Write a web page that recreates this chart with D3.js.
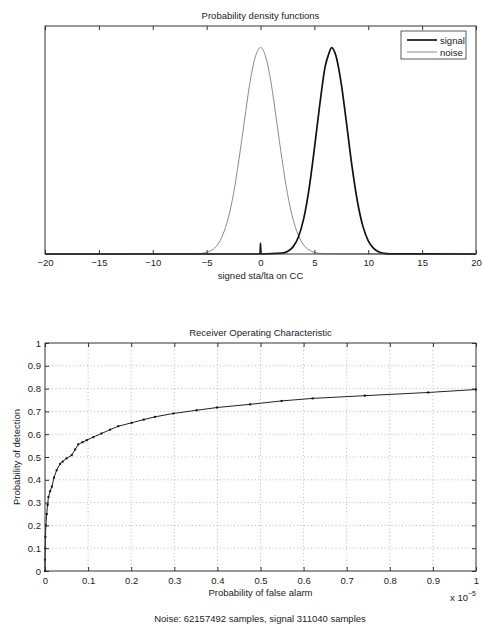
<!DOCTYPE html>
<html>
<head>
<meta charset="utf-8">
<title>PDF and ROC</title>
<script src="https://cdn.jsdelivr.net/npm/d3@7"></script>
<style>
body { margin: 0; background: #fff; }
text { font-family: "Liberation Sans", Arial, sans-serif; fill: #222; font-size: 9.5px; }
</style>
</head>
<body>
<script>
// density curves, values (no y scale shown)
var noiseX = [-20, -6, -5.5, -5, -4.5, -4, -3.5, -3, -2.5, -2, -1.5, -1, -0.5, 0, 0.5, 1, 1.5, 2, 2.5, 3, 3.5, 4, 4.5, 5, 5.5, 6, 20];
var noiseY = [0, 0.0002, 0.0007, 0.0019, 0.0048, 0.011, 0.023, 0.043, 0.073, 0.114, 0.160, 0.205, 0.237, 0.249, 0.237, 0.205, 0.160, 0.114, 0.073, 0.043, 0.023, 0.011, 0.0048, 0.0019, 0.0007, 0.0002, 0];
var signalX = [-20, -0.04, 0, 0.04, 2, 2.5, 3, 3.5, 4, 4.5, 5, 5.5, 6, 6.3, 6.6, 7, 7.5, 8, 8.5, 9, 9.5, 10, 10.5, 11, 11.5, 12, 20];
var signalY = [0, 0, 0.013, 0, 0.001, 0.003, 0.0083, 0.0199, 0.042, 0.078, 0.127, 0.180, 0.226, 0.240, 0.249, 0.239, 0.205, 0.156, 0.105, 0.063, 0.0336, 0.0159, 0.0067, 0.0025, 0.0008, 0.0002, 0];
var pdfTicks = [-20, -15, -10, -5, 0, 5, 10, 15, 20];

// ROC curve, false alarm in units of 1e-5
var pfa = [0, 0, 0.0005, 0.001, 0.002, 0.004, 0.006, 0.008, 0.012, 0.016, 0.021, 0.027, 0.035, 0.041, 0.050, 0.062, 0.070, 0.077, 0.087, 0.097, 0.112, 0.131, 0.151, 0.170, 0.201, 0.229, 0.255, 0.298, 0.352, 0.399, 0.476, 0.549, 0.621, 0.742, 0.889, 1.0];
var pd = [0, 0.05, 0.10, 0.15, 0.20, 0.25, 0.29, 0.325, 0.35, 0.37, 0.41, 0.442, 0.47, 0.48, 0.494, 0.508, 0.533, 0.555, 0.565, 0.574, 0.587, 0.603, 0.62, 0.635, 0.65, 0.664, 0.676, 0.691, 0.705, 0.717, 0.731, 0.746, 0.757, 0.769, 0.783, 0.796];
var rocTicks = [0, 0.1, 0.2, 0.3, 0.4, 0.5, 0.6, 0.7, 0.8, 0.9, 1];

var width = 482, height = 628;
var svg = d3.select("body").append("svg")
    .attr("width", width)
    .attr("height", height);

var fmt = function(d) { return String(d).replace("-", "\u2212"); };
var axStyle = function(a) { a.select(".domain").remove(); a.selectAll("line").attr("stroke", "#333"); };

// ---------- top panel ----------
var pdfBox = { left: 45, right: 476, top: 26, bottom: 254 };
var x1 = d3.scaleLinear().domain([-20, 20]).range([pdfBox.left, pdfBox.right]);
var y1 = d3.scaleLinear().domain([0, 0.275]).range([pdfBox.bottom, pdfBox.top]);

var g1 = svg.append("g");

var line1 = d3.line().curve(d3.curveMonotoneX);

g1.append("path")
    .attr("d", line1(noiseX.map(function(d, i) { return [x1(d), y1(noiseY[i])]; })))
    .attr("fill", "none")
    .attr("stroke", "#8a8a8a")
    .attr("stroke-width", 1);

g1.append("path")
    .attr("d", line1(signalX.map(function(d, i) { return [x1(d), y1(signalY[i])]; })))
    .attr("fill", "none")
    .attr("stroke", "#111")
    .attr("stroke-width", 1.7);

g1.append("g")
    .attr("transform", "translate(0," + pdfBox.bottom + ")")
    .call(d3.axisBottom(x1).tickValues(pdfTicks).tickSize(-4).tickPadding(5).tickFormat(fmt))
    .call(axStyle);
g1.append("g")
    .attr("transform", "translate(0," + pdfBox.top + ")")
    .call(d3.axisTop(x1).tickValues(pdfTicks).tickSize(-4).tickFormat(""))
    .call(axStyle);

g1.append("rect")
    .attr("x", pdfBox.left).attr("y", pdfBox.top)
    .attr("width", pdfBox.right - pdfBox.left).attr("height", pdfBox.bottom - pdfBox.top)
    .attr("fill", "none").attr("stroke", "#333").attr("stroke-width", 1);

g1.selectAll(".tick text").attr("font-size", "9.5px").attr("fill", "#222").attr("font-family", "Liberation Sans, Arial, sans-serif");

svg.append("text").attr("x", (pdfBox.left + pdfBox.right) / 2).attr("y", 18.5)
    .attr("text-anchor", "middle").text("Probability density functions");
svg.append("text").attr("x", (pdfBox.left + pdfBox.right) / 2).attr("y", 278.5)
    .attr("text-anchor", "middle").text("signed sta/lta on CC");

// legend
var leg = svg.append("g").attr("transform", "translate(401,31)");
leg.append("rect").attr("width", 65).attr("height", 28)
    .attr("fill", "#fff").attr("stroke", "#333").attr("stroke-width", 0.8);
leg.append("line").attr("x1", 6).attr("x2", 36).attr("y1", 9).attr("y2", 9)
    .attr("stroke", "#111").attr("stroke-width", 1.7);
leg.append("line").attr("x1", 6).attr("x2", 36).attr("y1", 21).attr("y2", 21)
    .attr("stroke", "#8a8a8a").attr("stroke-width", 1);
leg.append("text").attr("x", 39).attr("y", 12.5).attr("font-size", "9px").text("signal");
leg.append("text").attr("x", 39).attr("y", 24.5).attr("font-size", "9px").text("noise");

// ---------- bottom panel ----------
var rocBox = { left: 45, right: 476, top: 343, bottom: 571 };
var x2 = d3.scaleLinear().domain([0, 1]).range([rocBox.left, rocBox.right]);
var y2 = d3.scaleLinear().domain([0, 1]).range([rocBox.bottom, rocBox.top]);

var g2 = svg.append("g");

// dotted grid
g2.append("g").selectAll("line").data(rocTicks.slice(1, -1)).enter().append("line")
    .attr("x1", function(d) { return x2(d); }).attr("x2", function(d) { return x2(d); })
    .attr("y1", rocBox.top).attr("y2", rocBox.bottom)
    .attr("stroke", "#aaa").attr("stroke-width", 0.8).attr("stroke-dasharray", "1,2.5");
g2.append("g").selectAll("line").data(rocTicks.slice(1, -1)).enter().append("line")
    .attr("y1", function(d) { return y2(d); }).attr("y2", function(d) { return y2(d); })
    .attr("x1", rocBox.left).attr("x2", rocBox.right)
    .attr("stroke", "#aaa").attr("stroke-width", 0.8).attr("stroke-dasharray", "1,2.5");

g2.append("g").attr("transform", "translate(0," + rocBox.bottom + ")")
    .call(d3.axisBottom(x2).tickValues(rocTicks).tickSize(-4).tickPadding(6).tickFormat(d3.format("")))
    .call(axStyle);
g2.append("g").attr("transform", "translate(0," + rocBox.top + ")")
    .call(d3.axisTop(x2).tickValues(rocTicks).tickSize(-4).tickFormat(""))
    .call(axStyle);
g2.append("g").attr("transform", "translate(" + rocBox.left + ",0)")
    .call(d3.axisLeft(y2).tickValues(rocTicks).tickSize(-4).tickPadding(4).tickFormat(d3.format("")))
    .call(axStyle);
g2.append("g").attr("transform", "translate(" + rocBox.right + ",0)")
    .call(d3.axisRight(y2).tickValues(rocTicks).tickSize(-4).tickFormat(""))
    .call(axStyle);

g2.selectAll(".tick text").attr("font-size", "9.5px").attr("fill", "#222").attr("font-family", "Liberation Sans, Arial, sans-serif");

var line2 = d3.line().x(function(d, i) { return x2(pfa[i]); }).y(function(d) { return y2(d); });
g2.append("path").attr("d", line2(pd))
    .attr("fill", "none").attr("stroke", "#222").attr("stroke-width", 1);
g2.selectAll("rect.mk").data(pd).enter().append("rect")
    .attr("class", "mk")
    .attr("x", function(d, i) { return x2(pfa[i]) - 1; })
    .attr("y", function(d) { return y2(d) - 1; })
    .attr("width", 2).attr("height", 2).attr("fill", "#111");

g2.append("rect")
    .attr("x", rocBox.left).attr("y", rocBox.top)
    .attr("width", rocBox.right - rocBox.left).attr("height", rocBox.bottom - rocBox.top)
    .attr("fill", "none").attr("stroke", "#333").attr("stroke-width", 1);

svg.append("text").attr("x", (rocBox.left + rocBox.right) / 2).attr("y", 335.5)
    .attr("text-anchor", "middle").text("Receiver Operating Characteristic");
svg.append("text").attr("x", (rocBox.left + rocBox.right) / 2).attr("y", 595.5)
    .attr("text-anchor", "middle").text("Probability of false alarm");
svg.append("text").attr("transform", "translate(20," + (rocBox.top + rocBox.bottom) / 2 + ") rotate(-90)")
    .attr("text-anchor", "middle").text("Probability of detection");

var ex = svg.append("text").attr("x", 450).attr("y", 601);
ex.append("tspan").text("x 10");
ex.append("tspan").attr("dy", -5).attr("font-size", "7px").text("\u22125");

svg.append("text").attr("x", 260).attr("y", 621.5)
    .attr("text-anchor", "middle").text("Noise: 62157492 samples, signal 311040 samples");
</script>
</body>
</html>
